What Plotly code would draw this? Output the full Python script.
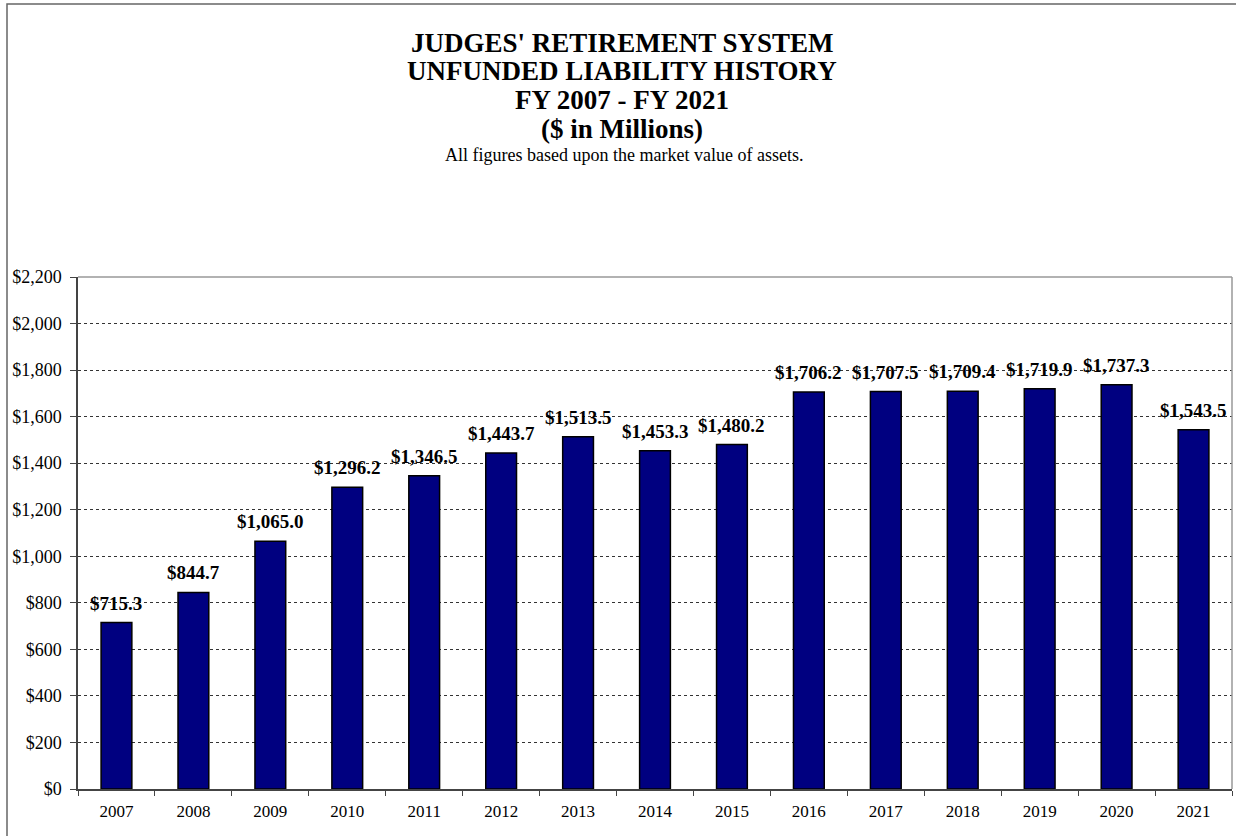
import plotly.graph_objects as go

years = ["2007", "2008", "2009", "2010", "2011", "2012", "2013", "2014",
         "2015", "2016", "2017", "2018", "2019", "2020", "2021"]
unfunded = [715.3, 844.7, 1065.0, 1296.2, 1346.5, 1443.7, 1513.5, 1453.3,
            1480.2, 1706.2, 1707.5, 1709.4, 1719.9, 1737.3, 1543.5]
y_ticks = list(range(0, 2201, 200))
title_lines = ["JUDGES' RETIREMENT SYSTEM", "UNFUNDED LIABILITY HISTORY",
               "FY 2007 - FY 2021", "($ in Millions)"]
subtitle = "All figures based upon the market value of assets."

FONT = "Liberation Serif, Times New Roman, serif"

fig = go.Figure(go.Bar(
    x=years, y=unfunded,
    marker=dict(color="#000080", line=dict(color="black", width=1.5)),
    width=0.4,
    hovertemplate="%{x}: $%{y:,.1f}<extra></extra>",
))

# value labels above bars, positioned through the data axes (category index)
for i, v in enumerate(unfunded):
    fig.add_annotation(x=i, y=v, xref="x", yref="y", text="<b>${:,.1f}</b>".format(v),
                       showarrow=False, yanchor="bottom", xanchor="center", yshift=7,
                       font=dict(family=FONT, size=19, color="black"))

L, R, T, B = 78, 4, 277, 47
W, H = 1236, 836
pw, ph = W - L - R, H - T - B

def px(x):
    return (x - L) / pw

def py(y):
    return (H - B - y) / ph

fig.update_layout(
    width=W, height=H,
    margin=dict(l=L, r=R, t=T, b=B),
    paper_bgcolor="white", plot_bgcolor="white",
    font=dict(family=FONT, color="black", size=16),
    showlegend=False,
)
fig.update_xaxes(
    type="category", categoryorder="array", categoryarray=years,
    range=[-0.5, len(years) - 0.5],
    showgrid=False, ticks="outside", tickson="boundaries",
    ticklen=5, tickcolor="#444", showline=True, linecolor="#444", linewidth=1.5,
    tickfont=dict(family=FONT, size=17, color="black"), ticklabelstandoff=6,
    tickangle=0,
)
fig.update_yaxes(
    range=[0, 2200], tickvals=y_ticks,
    ticktext=["${:,}".format(v) for v in y_ticks],
    showgrid=True, gridcolor="#333", griddash="dot", gridwidth=1,
    ticks="outside", ticklen=6, tickcolor="#444",
    showline=True, linecolor="#444", linewidth=1.5,
    tickfont=dict(family=FONT, size=18, color="black"), zeroline=False,
    ticklabelstandoff=5,
)

# plot border (top/right) in gray
fig.add_shape(type="line", xref="paper", yref="paper", x0=0, x1=1, y0=1, y1=1,
              line=dict(color="#999", width=1.5))
fig.add_shape(type="line", xref="paper", yref="paper", x0=1, x1=1, y0=0, y1=1,
              line=dict(color="#999", width=1.5))
# outer chart border
fig.add_shape(type="rect", xref="paper", yref="paper",
              x0=px(7), x1=px(1245), y0=py(845), y1=py(4),
              line=dict(color="#666", width=1.5), layer="below")

title_y = [43, 71, 100, 129]
for txt, yy in zip(title_lines, title_y):
    fig.add_annotation(text="<b>%s</b>" % txt, xref="paper", yref="paper",
                       x=px(622), y=py(yy), xanchor="center", yanchor="middle",
                       showarrow=False, font=dict(family=FONT, size=27, color="black"))
fig.add_annotation(text=subtitle, xref="paper", yref="paper",
                   x=px(624), y=py(155), xanchor="center", yanchor="middle",
                   showarrow=False, font=dict(family=FONT, size=18, color="black"))

fig.write_html("out.html", config={"displayModeBar": False},
               post_script="document.body.style.margin='0';")
